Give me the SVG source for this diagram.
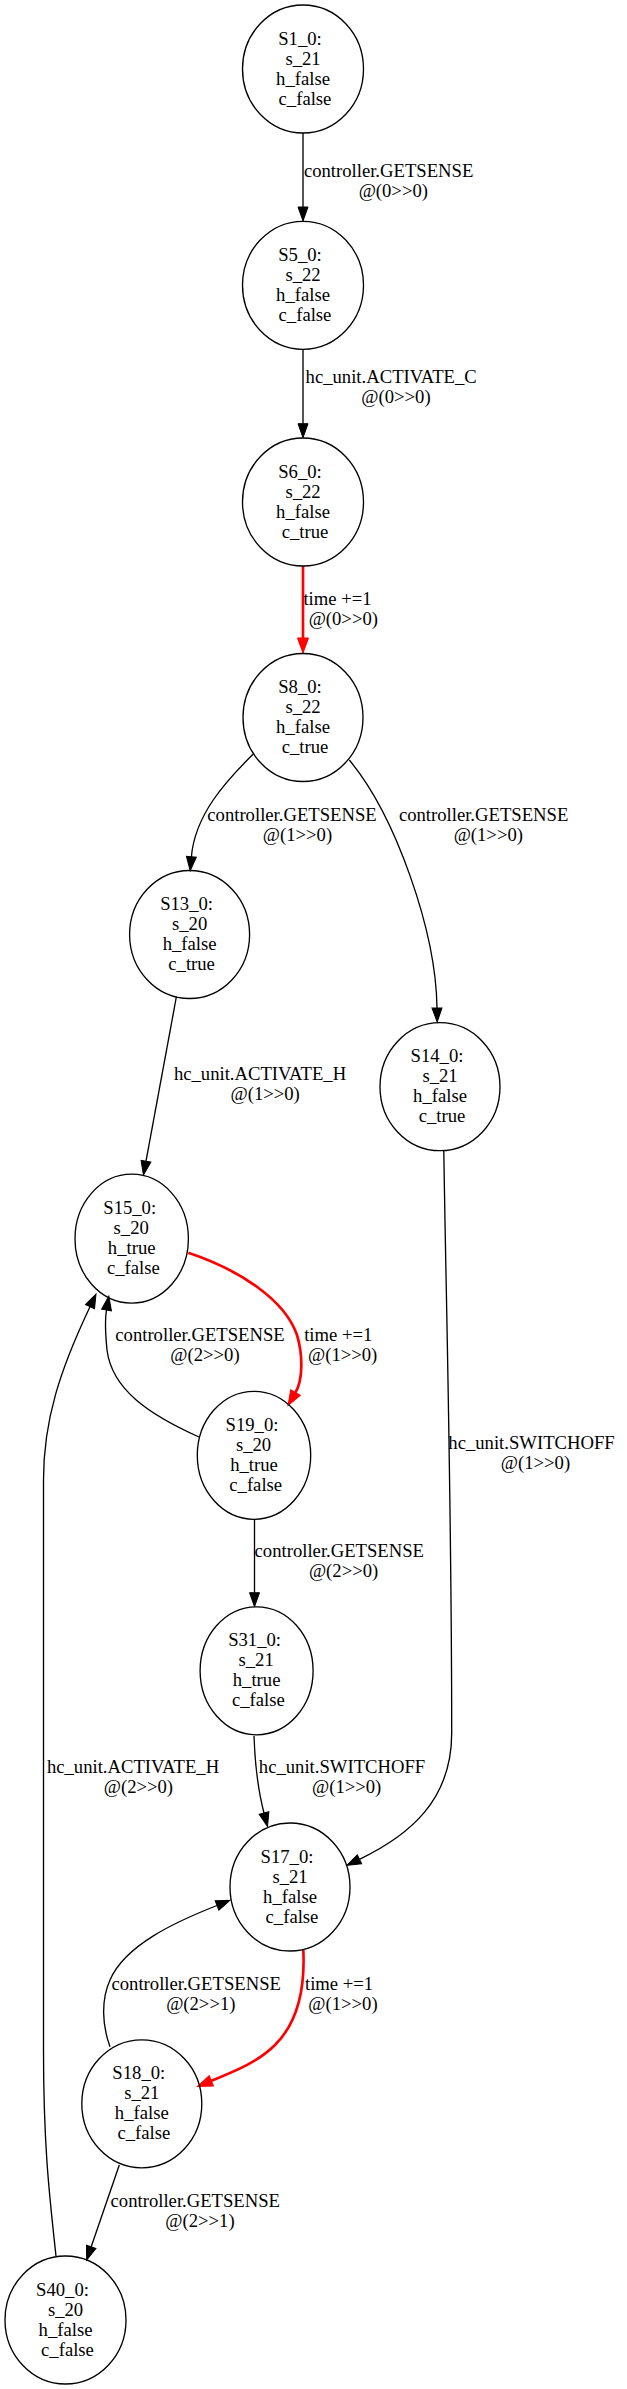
<svg xmlns="http://www.w3.org/2000/svg" width="627" height="2389" viewBox="0 0 627 2389">
<style>
text{font-family:"Liberation Serif","Times New Roman",serif;font-size:18.67px;fill:#000;text-anchor:middle}
ellipse{fill:none;stroke:#000;stroke-width:1.33}
.e{fill:none;stroke:#000;stroke-width:1.33;marker-end:url(#ab)}
.r{fill:none;stroke:#ff0000;stroke-width:2.67;marker-end:url(#ar)}
</style>
<defs>
<marker id="ab" markerUnits="userSpaceOnUse" viewBox="0 0 14 10" markerWidth="14" markerHeight="10" refX="0" refY="5" orient="auto" overflow="visible"><path d="M0,0 L14,5 L0,10 z" fill="#000" stroke="#000" stroke-width="1"/></marker>
<marker id="ar" markerUnits="userSpaceOnUse" viewBox="0 0 15 11" markerWidth="15" markerHeight="11" refX="0" refY="5.5" orient="auto" overflow="visible"><path d="M0,0 L15,5.5 L0,11 z" fill="#ff0000" stroke="#ff0000" stroke-width="1"/></marker>
</defs>
<rect width="627" height="2389" fill="#fff"/>
<g id="edges">
<path class="e" d="M303,133 L303,207"/>
<path class="e" d="M303,349.3 L303,423.7"/>
<path class="r" d="M303,566 L303,638"/>
<path class="e" d="M253,754.3 C225,782 195,815 191.4,856.7"/>
<path class="e" d="M349.3,760 C395,815 436,930 437,1008"/>
<path class="e" d="M176.4,996.7 L146,1161.2"/>
<path class="e" d="M443.8,1150.7 C446,1300 451.7,1500 451.7,1733 C451.7,1800 410,1835 359.5,1859.3"/>
<path class="r" d="M188.3,1252.7 C240,1270 285,1300 297,1335 C303,1355 303,1379.5 295.5,1392.5"/>
<path class="e" d="M199,1437 C150,1415 112,1390 107,1350 C105.5,1335 104.5,1322 106.5,1310"/>
<path class="e" d="M56,2256 C50,2200 43.5,2150 43.5,2050 L43.5,1480 C43.5,1420 60,1370 90,1306.7"/>
<path class="e" d="M254.5,1519.3 L254.5,1592.7"/>
<path class="e" d="M254,1736 C255,1765 258,1790 264,1813"/>
<path class="r" d="M303.3,1950 C305,1985 300,2020 275,2045 C258,2062 235,2071 211.3,2080.8"/>
<path class="e" d="M110,2046.7 C102,2025 101,2000 110,1980 C125,1945 175,1922 217,1905.5"/>
<path class="e" d="M119.3,2165 L91.2,2246.8"/>
<text x="388.6" y="176.7">controller.GETSENSE</text><text x="393.3" y="196.7">@(0&gt;&gt;0)</text>
<text x="391.2" y="383.3">hc_unit.ACTIVATE_C</text><text x="396" y="403.3">@(0&gt;&gt;0)</text>
<text x="337.5" y="605">time +=1</text><text x="343.3" y="625">@(0&gt;&gt;0)</text>
<text x="292" y="820.7">controller.GETSENSE</text><text x="297.5" y="840.7">@(1&gt;&gt;0)</text>
<text x="483.6" y="820.7">controller.GETSENSE</text><text x="488.3" y="840.7">@(1&gt;&gt;0)</text>
<text x="260" y="1080">hc_unit.ACTIVATE_H</text><text x="265.2" y="1100">@(1&gt;&gt;0)</text>
<text x="200" y="1341">controller.GETSENSE</text><text x="205" y="1361">@(2&gt;&gt;0)</text>
<text x="338.3" y="1341">time +=1</text><text x="342.7" y="1361">@(1&gt;&gt;0)</text>
<text x="531.5" y="1449.3">hc_unit.SWITCHOFF</text><text x="535.5" y="1469.3">@(1&gt;&gt;0)</text>
<text x="339.3" y="1557.3">controller.GETSENSE</text><text x="343.6" y="1577.3">@(2&gt;&gt;0)</text>
<text x="133" y="1773.3">hc_unit.ACTIVATE_H</text><text x="138.4" y="1793.3">@(2&gt;&gt;0)</text>
<text x="342" y="1773.3">hc_unit.SWITCHOFF</text><text x="346.7" y="1793.3">@(1&gt;&gt;0)</text>
<text x="196.2" y="1989.5">controller.GETSENSE</text><text x="200.8" y="2009.5">@(2&gt;&gt;1)</text>
<text x="339.1" y="1989.5">time +=1</text><text x="343" y="2009.5">@(1&gt;&gt;0)</text>
<text x="195.3" y="2206.7">controller.GETSENSE</text><text x="200" y="2226.7">@(2&gt;&gt;1)</text>
</g>
<g id="S1_0"><ellipse cx="303" cy="69" rx="60.5" ry="64"/><text x="300" y="44.5">S1_0:</text><text x="303" y="64.5">s_21</text><text x="303" y="84.5">h_false</text><text x="305" y="104.5">c_false</text></g>
<g id="S5_0"><ellipse cx="303" cy="285.3" rx="60.5" ry="64"/><text x="300" y="260.8">S5_0:</text><text x="303" y="280.8">s_22</text><text x="303" y="300.8">h_false</text><text x="305" y="320.8">c_false</text></g>
<g id="S6_0"><ellipse cx="303" cy="502" rx="60.5" ry="64"/><text x="300" y="477.5">S6_0:</text><text x="303" y="497.5">s_22</text><text x="303" y="517.5">h_false</text><text x="305" y="537.5">c_true</text></g>
<g id="S8_0"><ellipse cx="303" cy="717.5" rx="60" ry="64"/><text x="300" y="693">S8_0:</text><text x="303" y="713">s_22</text><text x="303" y="733">h_false</text><text x="305" y="753">c_true</text></g>
<g id="S13_0"><ellipse cx="189.6" cy="934.5" rx="60" ry="64"/><text x="186.6" y="910">S13_0:</text><text x="189.6" y="930">s_20</text><text x="189.6" y="950">h_false</text><text x="191.6" y="970">c_true</text></g>
<g id="S14_0"><ellipse cx="440" cy="1086.7" rx="60" ry="64"/><text x="437" y="1062.2">S14_0:</text><text x="440" y="1082.2">s_21</text><text x="440" y="1102.2">h_false</text><text x="442" y="1122.2">c_true</text></g>
<g id="S15_0"><ellipse cx="131.7" cy="1238.7" rx="56.7" ry="64.5"/><text x="129.7" y="1214.2">S15_0:</text><text x="131.2" y="1234.2">s_20</text><text x="131.7" y="1254.2">h_true</text><text x="133.4" y="1274.2">c_false</text></g>
<g id="S19_0"><ellipse cx="254" cy="1455.3" rx="56.7" ry="64"/><text x="252" y="1430.8">S19_0:</text><text x="253.5" y="1450.8">s_20</text><text x="254" y="1470.8">h_true</text><text x="255.7" y="1490.8">c_false</text></g>
<g id="S31_0"><ellipse cx="256.6" cy="1670.8" rx="56.5" ry="64"/><text x="254.6" y="1646.3">S31_0:</text><text x="256.1" y="1666.3">s_21</text><text x="256.6" y="1686.3">h_true</text><text x="258.3" y="1706.3">c_false</text></g>
<g id="S17_0"><ellipse cx="290" cy="1887" rx="60" ry="64"/><text x="287" y="1862.5">S17_0:</text><text x="290" y="1882.5">s_21</text><text x="290" y="1902.5">h_false</text><text x="292" y="1922.5">c_false</text></g>
<g id="S18_0"><ellipse cx="141.8" cy="2103.8" rx="60" ry="64"/><text x="138.8" y="2079.3">S18_0:</text><text x="141.8" y="2099.3">s_21</text><text x="141.8" y="2119.3">h_false</text><text x="143.8" y="2139.3">c_false</text></g>
<g id="S40_0"><ellipse cx="65.5" cy="2320" rx="60.5" ry="64"/><text x="62.5" y="2295.5">S40_0:</text><text x="65.5" y="2315.5">s_20</text><text x="65.5" y="2335.5">h_false</text><text x="67.5" y="2355.5">c_false</text></g>
</svg>
